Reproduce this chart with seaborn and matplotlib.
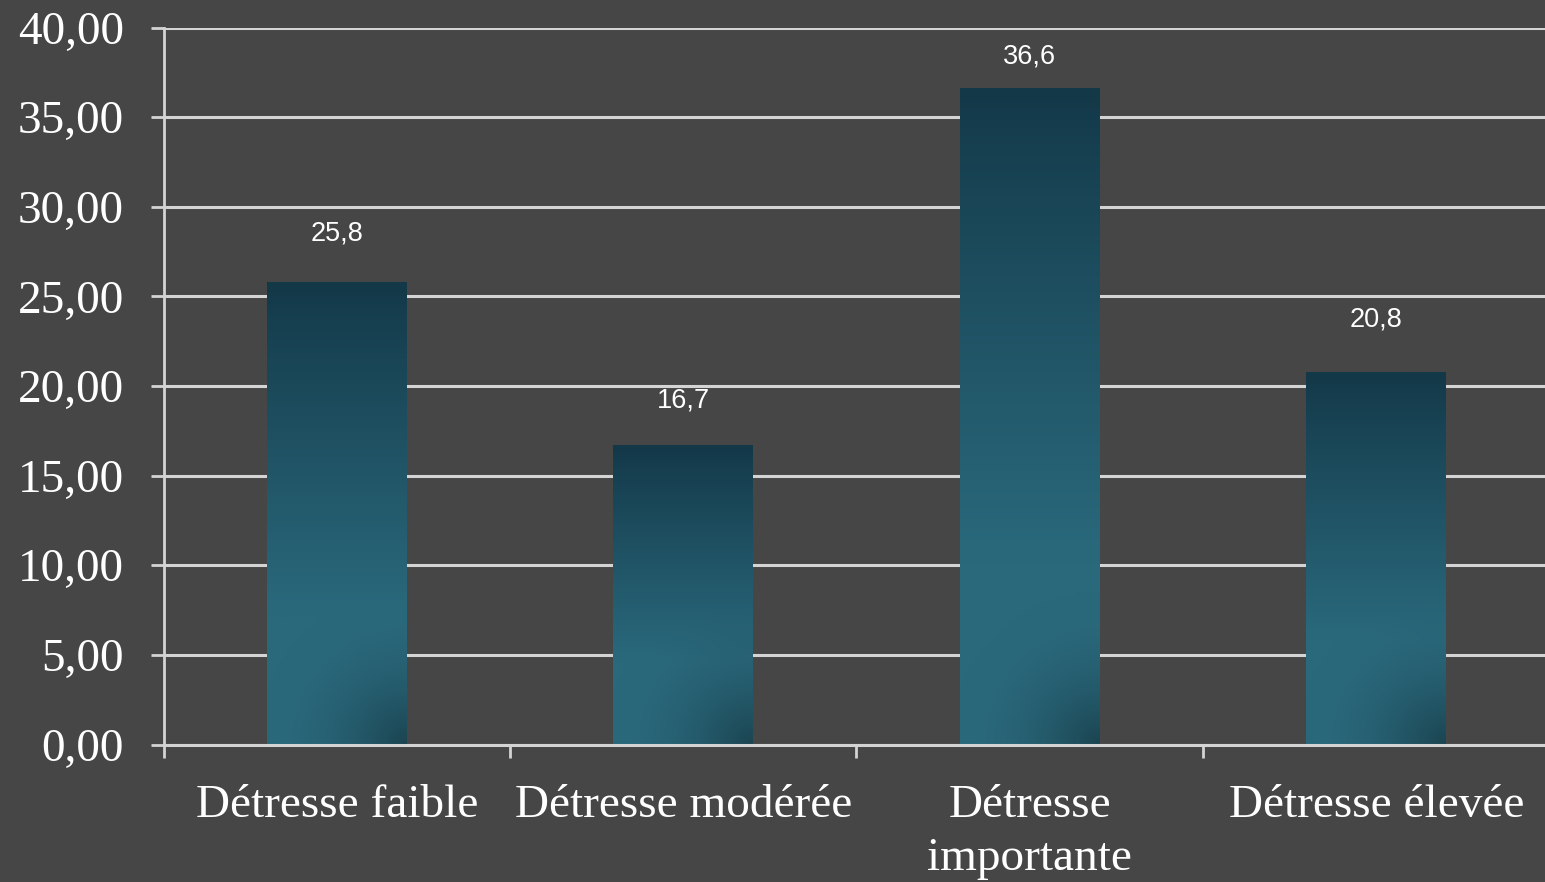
import numpy as np
import pandas as pd
import matplotlib
matplotlib.use("Agg")
import matplotlib.pyplot as plt
import seaborn as sns

# ---- data ----
categories = ["Détresse faible", "Détresse modérée", "Détresse\nimportante", "Détresse élevée"]
values = [25.8, 16.7, 36.6, 20.8]
value_labels = ["25,8", "16,7", "36,6", "20,8"]
y_ticks = [0, 5, 10, 15, 20, 25, 30, 35, 40]
y_tick_labels = ["0,00", "5,00", "10,00", "15,00", "20,00", "25,00", "30,00", "35,00", "40,00"]

# ---- style ----
BG = "#464646"
GRID = "#d4d4d4"
TOP_COL = np.array([19, 56, 72]) / 255.0
BOT_COL = np.array([42, 105, 124]) / 255.0
LABEL_OFFSETS_PX = [49, 45, 32, 52]

sns.set_theme(style="dark")
plt.rcParams["font.family"] = ["Liberation Serif", "DejaVu Serif"]

fig = plt.figure(figsize=(15.45, 8.82), dpi=100, facecolor=BG)
W, H = 1545, 882
ax = fig.add_axes([163.5 / W, 1 - 744.5 / H, (1549.5 - 163.5) / W, (744.5 - 27.5) / H])
ax.set_facecolor(BG)

df = pd.DataFrame({"cat": categories, "val": values})
sns.barplot(data=df, x="cat", y="val", order=categories, color="#2a6a7c",
            width=0.404, saturation=1, ax=ax, zorder=3)

ax.set_xlim(-0.5, 3.5)
ax.set_ylim(0, 40)

# gradient fill for each bar
ny, nx = 200, 60
t = np.linspace(0, 1, ny)[:, None]  # 0 top -> 1 bottom
frac = np.clip(t / 0.72, 0, 1) ** 0.9
base = TOP_COL[None, None, :] * (1 - frac[..., None]) + BOT_COL[None, None, :] * frac[..., None]
base = np.repeat(base, nx, axis=1)
xx = np.linspace(0, 1, nx)[None, :]
yy = np.linspace(0, 1, ny)[:, None]
for p in ax.patches:
    x0, y0 = p.get_x(), p.get_y()
    w, h = p.get_width(), p.get_height()
    hpx = h * 17.925
    wpx = 140.0
    dx = (1 - xx) * wpx
    dy = (1 - yy) * hpx
    d = np.sqrt(dx ** 2 + dy ** 2)
    shade = np.clip(1 - d / 150.0, 0, 1) ** 2.0 * 0.35
    img = base * (1 - shade[..., None])
    im = ax.imshow(img, extent=(x0, x0 + w, y0, y0 + h), aspect="auto",
                   origin="upper", zorder=4, interpolation="bilinear")
    im.set_clip_path(p)
    p.set_facecolor("none")
    p.set_edgecolor("none")

ax.set_xlim(-0.5, 3.5)
ax.set_ylim(0, 40)

# grid
ax.set_yticks(y_ticks)
ax.set_yticklabels(y_tick_labels)
ax.yaxis.grid(True, color=GRID, linewidth=2.2, zorder=1)
ax.xaxis.grid(False)
ax.set_axisbelow(True)

for s in ["top", "right"]:
    ax.spines[s].set_visible(False)
ax.spines["left"].set_color(GRID)
ax.spines["left"].set_linewidth(2.0)
ax.spines["bottom"].set_color(GRID)
ax.spines["bottom"].set_linewidth(2.2)
ax.spines["bottom"].set_zorder(5)

ax.set_xticks(range(len(categories)))
ax.set_xticklabels(categories, fontsize=34, color="white", linespacing=1.3)
ax.set_xticks([-0.5, 0.5, 1.5, 2.5], minor=True)
ax.tick_params(axis="x", which="major", bottom=True, length=0, pad=29)
ax.tick_params(axis="x", which="minor", bottom=True, length=9.5, width=2.0, color=GRID, direction="out")
ax.tick_params(axis="y", which="major", left=True, length=9.5, width=2.0, color=GRID,
               direction="out", labelsize=34, labelcolor="white", pad=19)
ax.set_xlabel("")
ax.set_ylabel("")

# data labels
for i, (v, lab) in enumerate(zip(values, value_labels)):
    ax.annotate(lab, xy=(i, v), xytext=(0, LABEL_OFFSETS_PX[i] * 0.72),
                textcoords="offset points", ha="center", va="center",
                fontsize=19.5, color="white", family=["Liberation Sans", "DejaVu Sans"])

fig.savefig("out.png", dpi=100, facecolor=BG)
